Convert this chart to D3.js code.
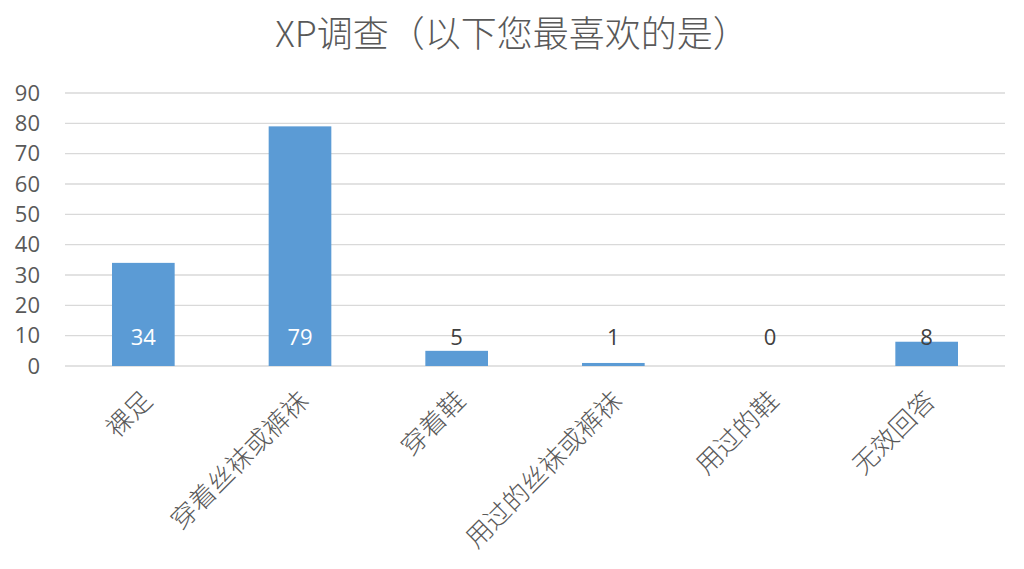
<!DOCTYPE html>
<html>
<head>
<meta charset="utf-8">
<script src="https://cdn.jsdelivr.net/npm/d3@7"></script>
<style>
  body { margin: 0; background: #fff; }
  text { font-family: "Noto Sans CJK SC", "Noto Sans", sans-serif; }
  .num { font-family: "Open Sans", "Noto Sans", sans-serif; }
</style>
</head>
<body>
<svg id="chart"></svg>
<script>
// Data
const categories = ["裸足", "穿着丝袜或裤袜", "穿着鞋", "用过的丝袜或裤袜", "用过的鞋", "无效回答"];
const counts = [34, 79, 5, 1, 0, 8];
const yTicks = [0, 10, 20, 30, 40, 50, 60, 70, 80, 90];
const title = "XP调查（以下您最喜欢的是）";

const width = 1024;
const height = 569;
const margin = { top: 93, right: 19, bottom: 203, left: 65 };

const svg = d3.select("#chart").attr("width", width).attr("height", height);

const x = d3.scaleBand()
    .domain(categories)
    .range([margin.left, width - margin.right])
    .paddingInner(0.6)
    .paddingOuter(0.3);

const y = d3.scaleLinear()
    .domain([0, 90])
    .range([height - margin.bottom, margin.top]);

// Title
svg.append("text")
    .attr("x", width / 2)
    .attr("y", 47)
    .attr("text-anchor", "middle")
    .attr("font-size", 36)
    .attr("font-weight", 300)
    .attr("fill", "#595959")
    .text(title);

// Gridlines
svg.append("g")
    .selectAll("line")
    .data(yTicks)
    .enter()
    .append("line")
    .attr("x1", margin.left)
    .attr("x2", width - margin.right)
    .attr("y1", (d) => y(d))
    .attr("y2", (d) => y(d))
    .attr("stroke", "#d9d9d9")
    .attr("stroke-width", 1.3);

// Y axis labels
svg.append("g")
    .selectAll("text")
    .data(yTicks)
    .enter()
    .append("text")
    .attr("class", "num")
    .attr("x", 40)
    .attr("y", (d) => y(d))
    .attr("dy", "0.35em")
    .attr("text-anchor", "end")
    .attr("font-size", 22)
    .attr("fill", "#595959")
    .text((d) => d);

// Bars
svg.append("g")
    .selectAll("rect")
    .data(counts)
    .enter()
    .append("rect")
    .attr("x", (d, i) => x(categories[i]))
    .attr("y", (d) => y(d))
    .attr("width", x.bandwidth())
    .attr("height", (d) => y(0) - y(d))
    .attr("fill", "#5b9bd5");

// Data labels, all sitting just above the base
const labelY = y(0) - 29;
svg.append("g")
    .selectAll("text")
    .data(counts)
    .enter()
    .append("text")
    .attr("class", "num")
    .attr("x", (d, i) => x(categories[i]) + x.bandwidth() / 2)
    .attr("y", labelY)
    .attr("dy", "0.35em")
    .attr("text-anchor", "middle")
    .attr("font-size", 22)
    .attr("fill", (d) => (y(d) < labelY - 12 ? "#ffffff" : "#404040"))
    .text((d) => d);

// Category labels, rotated
svg.append("g")
    .selectAll("text")
    .data(categories)
    .enter()
    .append("text")
    .attr("transform", (d) => `translate(${x(d) + x.bandwidth() / 2 + 4},${y(0) + 30}) rotate(-45)`)
    .attr("text-anchor", "end")
    .attr("dy", "0.35em")
    .attr("font-size", 26)
    .attr("font-weight", 300)
    .attr("fill", "#595959")
    .text((d) => d);
</script>
</body>
</html>
